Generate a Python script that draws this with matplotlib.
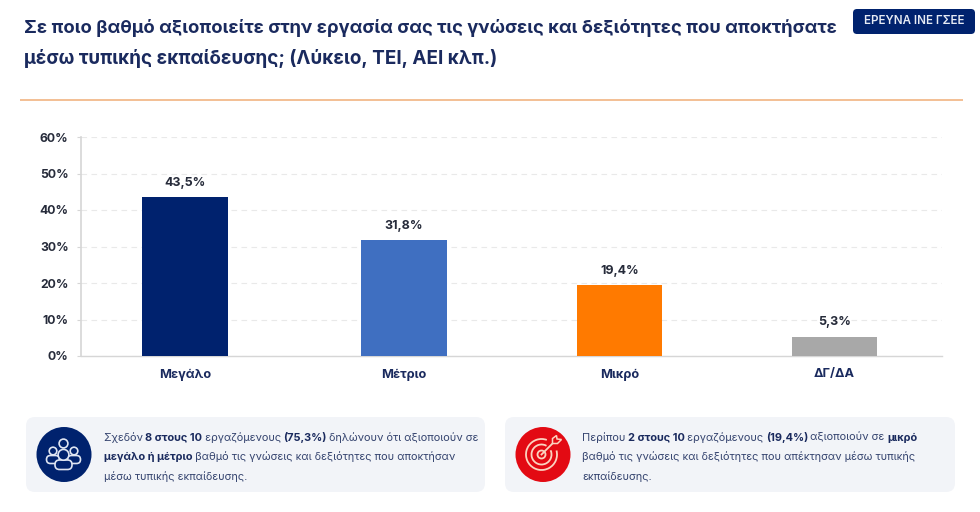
"""Bar chart of how much workers use formal-education skills, with two note cards."""

import matplotlib

matplotlib.use("Agg")
import matplotlib.pyplot as plt
from matplotlib.patches import Arc, Circle, FancyBboxPatch, Polygon

plt.rcParams["font.family"] = ["Inter", "Noto Sans", "DejaVu Sans"]

TITLE_LINES = [
    "Σε ποιο βαθμό αξιοποιείτε στην εργασία σας τις γνώσεις και δεξιότητες που αποκτήσατε",
    "μέσω τυπικής εκπαίδευσης; (Λύκειο, ΤΕΙ, ΑΕΙ κλπ.)",
]
BADGE_TEXT = "ΕΡΕΥΝΑ ΙΝΕ ΓΣΕΕ"

categories = ["Μεγάλο", "Μέτριο", "Μικρό", "ΔΓ/ΔΑ"]
values = [43.5, 31.8, 19.4, 5.3]
y_ticks = [0, 10, 20, 30, 40, 50, 60]

# (text, is_bold) runs per line
left_note = [
    [("Σχεδόν ", False), ("8 στους 10", True), (" εργαζόμενους ", False), ("(75,3%)", True),
     (" δηλώνουν ότι αξιοποιούν σε", False)],
    [("μεγάλο ή μέτριο", True), (" βαθμό τις γνώσεις και δεξιότητες που αποκτήσαν", False)],
    [("μέσω τυπικής εκπαίδευσης.", False)],
]
right_note = [
    [("Περίπου ", False), ("2 στους 10", True), (" εργαζόμενους ", False), ("(19,4%)", True),
     (" αξιοποιούν σε ", False), ("μικρό", True)],
    [("βαθμό τις γνώσεις και δεξιότητες που απέκτησαν μέσω τυπικής", False)],
    [("εκπαίδευσης.", False)],
]

NAVY = "#00226e"
RED = "#e30a13"
TEXT_NAVY = "#1a2a5e"
BODY_TEXT = "#35446f"
AXIS_TEXT = "#262b3a"
BAR_COLORS = ["#00226e", "#3f6fc1", "#ff7a00", "#a8a8a8"]
CARD = "#f2f4f8"
W, H = 980, 512
BAR_CENTERS = [185, 404, 619.5, 834.5]
BAR_WIDTH = 85.5


def pct(v):
    return f"{v:.1f}".replace(".", ",") + "%"


def draw_runs(ov, fig, x, y, runs, size):
    """Write mixed regular/bold runs on one baseline, advancing by measured width."""
    renderer = fig.canvas.get_renderer()
    inv = ov.transData.inverted()
    for text, bold in runs:
        # non-breaking spaces so the leading/trailing gaps count towards the width
        probe = ov.text(x, y, text.replace(" ", "\u00a0"), fontsize=size, va="baseline",
                        fontweight="bold" if bold else "normal",
                        color=TEXT_NAVY if bold else BODY_TEXT)
        bb = probe.get_window_extent(renderer)
        x += abs(inv.transform((bb.x1, 0))[0] - inv.transform((bb.x0, 0))[0]) - 0.6


def draw_people_icon(ov, cx, cy):
    lw = 1.2
    col = "#dfe5f2"
    for dx in (-10.5, 10.5):
        ov.add_patch(FancyBboxPatch((cx + dx - 6.5, cy + 1), 13, 8,
                                    boxstyle="round,pad=0,rounding_size=4",
                                    fc=NAVY, ec=col, lw=lw, zorder=4))
        ov.add_patch(Circle((cx + dx, cy - 3.5), 3.8, fc=NAVY, ec=col, lw=lw, zorder=4))
    ov.add_patch(Circle((cx, cy - 11), 4.4, fc=NAVY, ec=col, lw=lw, zorder=4))
    ov.add_patch(FancyBboxPatch((cx - 8.5, cy + 5.5), 17, 9.5,
                                boxstyle="round,pad=0,rounding_size=4.5",
                                fc=NAVY, ec=col, lw=lw, zorder=5))
    ov.add_patch(Circle((cx, cy + 0.3), 5.4, fc=NAVY, ec=col, lw=lw, zorder=5))


def draw_target_icon(ov, cx, cy):
    col = "#fbd3c0"
    ov.add_patch(Arc((cx, cy), 31, 31, theta1=-15, theta2=290, ec=col, lw=1.3, zorder=4))
    ov.add_patch(Arc((cx, cy), 20, 20, theta1=-25, theta2=300, ec=col, lw=1.3, zorder=4))
    ov.add_patch(Circle((cx, cy), 4, fc=RED, ec=col, lw=1.3, zorder=4))
    ov.plot([cx, cx + 13], [cy, cy - 13], color=col, lw=1.3, zorder=5)
    ov.add_patch(Polygon([(cx + 11, cy - 11), (cx + 11, cy - 16), (cx + 15, cy - 19),
                          (cx + 15.5, cy - 15.5), (cx + 20, cy - 15), (cx + 16, cy - 11)],
                         closed=True, fc=RED, ec=col, lw=1.1, zorder=5))


fig = plt.figure(figsize=(W / 100, H / 100), dpi=100, facecolor="white")

# Overlay in pixel coordinates for header, cards and icons
ov = fig.add_axes([0, 0, 1, 1], zorder=3)
ov.set_xlim(0, W)
ov.set_ylim(H, 0)
ov.axis("off")
ov.patch.set_alpha(0)

ov.text(24, 28, TITLE_LINES[0], fontsize=13.25, fontweight="bold", color=TEXT_NAVY, va="center")
ov.text(24, 58, TITLE_LINES[1], fontsize=13.6, fontweight="bold", color=TEXT_NAVY, va="center")
ov.add_patch(FancyBboxPatch((853, 9), 122, 25, boxstyle="round,pad=0,rounding_size=4",
                            fc=NAVY, ec="none"))
ov.text(914, 21.5, BADGE_TEXT, fontsize=8.3, fontweight="semibold", color="#e6eaf4",
        ha="center", va="center")
ov.plot([20, 963], [99.5, 99.5], color="#f3bf94", lw=1.4, solid_capstyle="butt")

for x0, x1, circle_x, circle_col, lines, tx in [
    (26, 485, 64, NAVY, left_note, 104),
    (505, 955, 543, RED, right_note, 582),
]:
    ov.add_patch(FancyBboxPatch((x0, 417), x1 - x0, 75, boxstyle="round,pad=0,rounding_size=9",
                                fc=CARD, ec="none"))
    ov.add_patch(Circle((circle_x, 454.5), 27.5, fc=circle_col, ec="none", zorder=3))
    for baseline, runs in zip([441, 460.5, 480], lines):
        draw_runs(ov, fig, tx, baseline, runs, 7.9)

draw_people_icon(ov, 63.5, 454.5)
draw_target_icon(ov, 541.5, 454.5)

# Main bar chart, axes box spans the plot area
ax = fig.add_axes([81 / W, 1 - 356 / H, (942 - 81) / W, (356 - 137) / H])
ax.set_xlim(81, 942)
ax.set_ylim(0, 60)
ax.bar(BAR_CENTERS, values, width=BAR_WIDTH, color=BAR_COLORS, zorder=3)
for x, v in zip(BAR_CENTERS, values):
    ax.text(x, v + 2.3, pct(v), ha="center", va="bottom", fontsize=9,
            fontweight="bold", color=AXIS_TEXT)

ax.set_yticks(y_ticks)
ax.set_yticklabels([f"{t}%" for t in y_ticks], fontsize=8.8, fontweight="bold", color=AXIS_TEXT)
ax.set_xticks(BAR_CENTERS)
ax.set_xticklabels(categories, fontsize=9.2, fontweight="bold", color=TEXT_NAVY)
ax.tick_params(axis="y", length=3, width=0.8, color="#d6d6d6", pad=6)
ax.tick_params(axis="x", length=0, pad=9)
ax.grid(axis="y", color="#e9e9e9", lw=0.8, ls=(0, (5, 4)), zorder=0)
ax.set_axisbelow(True)
for side in ["top", "right"]:
    ax.spines[side].set_visible(False)
ax.spines["left"].set_color("#d6d6d6")
ax.spines["left"].set_linewidth(1.2)
ax.spines["bottom"].set_color("#d6d6d6")
ax.spines["bottom"].set_linewidth(1.0)

fig.savefig("out.png", dpi=100)
plt.close(fig)
